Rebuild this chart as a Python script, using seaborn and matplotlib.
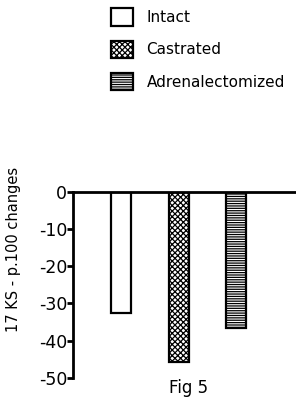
import matplotlib
matplotlib.use('Agg')
import matplotlib.pyplot as plt
import seaborn as sns
import pandas as pd

# Datos
groups = ['Intact', 'Castrated', 'Adrenalectomized']
changes = [-32.7, -45.7, -36.7]
hatches = ['', 'xxxxxx', '-------']
yticks = [0, -10, -20, -30, -40, -50]

sns.set_style('white')
plt.rcParams['font.family'] = ['DejaVu Sans']
plt.rcParams['hatch.linewidth'] = 0.9
plt.rcParams['text.color'] = 'black'
plt.rcParams['ytick.color'] = 'black'
plt.rcParams['axes.labelcolor'] = 'black'

df = pd.DataFrame({'group': groups, 'change': changes})

fig = plt.figure(figsize=(2.96, 3.97), dpi=100)
ax = fig.add_axes([72.7 / 296, 1 - 377.7 / 397, 1 - 72.7 / 296, (377.7 - 191.7) / 397])

sns.barplot(data=df, x='group', y='change', color='white', width=0.35,
            edgecolor='black', linewidth=1.6, ax=ax)

for bar, h in zip(ax.patches, hatches):
    bar.set_hatch(h)

ax.set_ylim(-50, 0)
ax.set_xlim(-0.85, 3.05)
ax.set_yticks(yticks)
ax.set_yticklabels([str(t) for t in yticks], fontsize=12.5)
ax.set_xticks([])
ax.set_xlabel('')
ax.set_ylabel('17 KS - p.100 changes', fontsize=10.5)
ax.yaxis.set_label_coords(-0.23, 0.687)

for side in ['bottom', 'right']:
    ax.spines[side].set_visible(False)
for side in ['top', 'left']:
    ax.spines[side].set_linewidth(2)
    ax.spines[side].set_color('black')
ax.tick_params(axis='y', direction='out', length=4, width=2, pad=0, left=True)

# Leyenda arriba
fig.legend(ax.patches[:3], groups, loc='upper left', bbox_to_anchor=(0.345, 1.0),
           frameon=False, fontsize=11, handlelength=1.5, handleheight=1.4,
           labelspacing=0.95, handletextpad=0.85, borderaxespad=0.15)

fig.text(189 / 296, 1 - 388 / 397, 'Fig 5', ha='center', va='center', fontsize=12)

plt.savefig('out.png', dpi=100)
